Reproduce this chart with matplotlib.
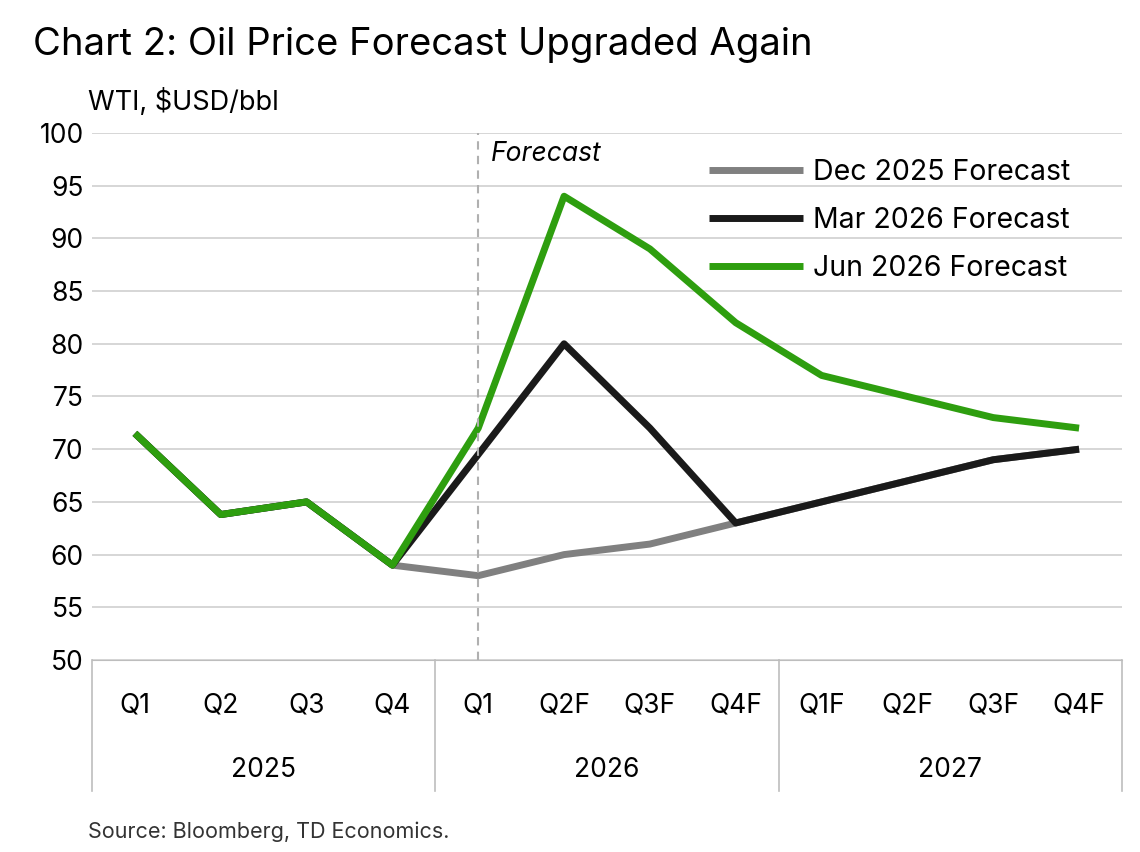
import matplotlib.pyplot as plt

plt.rcParams['font.family'] = ['Inter', 'DejaVu Sans']

QUARTERS = ["Q1", "Q2", "Q3", "Q4", "Q1", "Q2F", "Q3F", "Q4F", "Q1F", "Q2F", "Q3F", "Q4F"]
YEARS = ["2025", "2026", "2027"]
DEC_2025 = [71.5, 63.8, 65, 59, 58, 60, 61, 63, 65, 67, 69, 70]
MAR_2026 = [71.5, 63.8, 65, 59, 69.5, 80, 72, 63, 65, 67, 69, 70]
JUN_2026 = [71.5, 63.8, 65, 59, 72, 94, 89, 82, 77, 75, 73, 72]

fig = plt.figure(figsize=(11.4, 8.52), dpi=100)
ax = fig.add_axes([92/1140, 1 - 660/852, (1122-92)/1140, (660-133)/852])

x = range(len(QUARTERS))
ax.plot(x, DEC_2025, color="#808080", lw=5, label="Dec 2025 Forecast", solid_capstyle="butt")
ax.plot(x, MAR_2026, color="#1a1a1a", lw=5, label="Mar 2026 Forecast", solid_capstyle="butt")
ax.plot(x, JUN_2026, color="#2e9e0f", lw=5, label="Jun 2026 Forecast", solid_capstyle="butt")

ax.set_xlim(-0.5, 11.5)
ax.set_ylim(50, 100)
ax.set_yticks(range(50, 101, 5))
ax.tick_params(axis="y", length=0, labelsize=19, pad=6)
ax.set_xticks([])
ax.grid(axis="y", color="#d0d0d0", lw=1.2)
ax.set_axisbelow(True)
for s in ["top", "right", "left"]:
    ax.spines[s].set_visible(False)
ax.spines["bottom"].set_color("#bdbdbd")

ax.axvline(4, color="#b0b0b0", lw=1.5, ls=(0, (4, 3)))
ax.text(4.15, 98.0, "Forecast", fontsize=19, style="italic", va="center")

# category labels below axis
for i, q in enumerate(QUARTERS):
    ax.text(i, 45.7, q, ha="center", va="center", fontsize=19, clip_on=False)
for j, y in enumerate(YEARS):
    ax.text(4 * j + 1.5, 39.6, y, ha="center", va="center", fontsize=19, clip_on=False)
for b in [-0.5, 3.5, 7.5, 11.5]:
    ax.plot([b, b], [50, 37.6], color="#bdbdbd", lw=1.2, clip_on=False)

leg = ax.legend(loc="upper right", bbox_to_anchor=(0.975, 1.0), frameon=False, fontsize=20.5,
                handlelength=3.3, labelspacing=0.75, handletextpad=0.35)

fig.text(33/1140, 1 - 45/852, "Chart 2: Oil Price Forecast Upgraded Again", fontsize=27.5, va="center")
fig.text(88/1140, 1 - 102/852, "WTI, $USD/bbl", fontsize=19.5, va="center")
fig.text(88/1140, 1 - 832/852, "Source: Bloomberg, TD Economics.", fontsize=15.5, va="center", color="#333333")

fig.savefig("out.png", dpi=100)
